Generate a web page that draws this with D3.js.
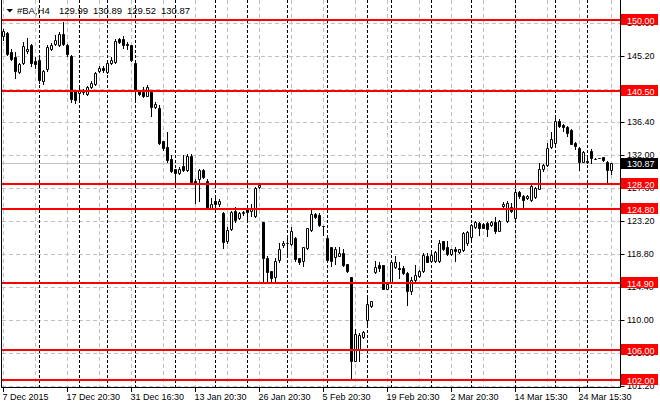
<!DOCTYPE html>
<html>
<head>
<meta charset="utf-8">
<script src="https://cdn.jsdelivr.net/npm/d3@7"></script>
<style>
  body { margin: 0; background: #fff; }
  svg { display: block; font-family: "Liberation Sans", Arial, sans-serif; }
</style>
</head>
<body>
<div id="chart"></div>
<script>
// #BA H4 bars, oldest first
var opens = [
  147.9,148.3,145.7,145.0,143.1,144.3,145.9,146.6,144.5,144.7,
  141.9,143.5,146.2,146.8,146.7,148.1,146.6,145.2,140.5,140.3,
  140.4,140.1,141.0,141.5,143.2,143.6,143.1,144.3,144.4,147.4,
  147.5,146.8,146.6,144.3,140.6,140.4,139.9,140.4,138.4,138.3,
  133.8,133.1,131.5,130.1,129.6,130.5,130.0,131.9,128.6,128.8,
  130.0,128.6,124.9,125.8,125.4,124.3,120.5,122.1,124.5,123.6,
  124.2,124.8,124.5,123.9,127.7,123.0,118.3,116.6,115.8,118.0,
  120.0,120.2,120.1,121.0,118.2,117.9,119.6,122.0,124.1,124.0,
  122.6,121.0,119.7,118.4,118.6,119.0,117.4,115.7,104.6,106.0,
  107.8,110.0,111.9,116.4,117.3,117.3,114.2,115.0,117.1,117.0,
  117.0,116.3,113.9,115.3,115.9,116.5,118.6,117.9,117.9,117.9,
  120.5,119.7,118.8,119.4,119.1,119.3,120.2,121.1,122.4,122.9,
  122.8,122.9,122.7,123.1,121.9,125.2,123.2,125.1,123.6,127.0,
  126.6,126.3,126.0,126.4,127.5,130.1,130.7,133.0,133.6,136.6,
  136.0,135.7,135.3,133.6,132.9,131.1,131.2,132.6,131.5,131.6,
  131.7,131.1,129.99
];
var highs = [
  148.8,148.4,146.2,145.7,144.3,147.0,147.6,146.8,145.0,144.9,
  143.3,146.7,146.9,148.0,148.4,149.7,146.8,145.3,140.6,140.9,
  140.8,141.2,141.8,143.0,143.8,143.8,144.6,145.0,147.4,147.6,
  147.8,147.1,146.7,144.4,140.7,141.0,141.3,140.6,139.0,138.6,
  133.9,135.0,132.0,130.2,130.4,132.0,132.1,132.2,128.8,130.2,
  130.2,128.8,126.2,126.4,126.1,124.4,122.4,124.5,125.0,124.4,
  124.6,125.2,125.4,127.8,128.2,123.1,118.6,116.6,118.2,120.2,
  120.5,121.1,122.4,121.1,118.3,119.8,122.3,124.9,124.3,124.3,
  122.6,121.1,119.8,119.8,119.8,119.5,117.4,115.8,108.8,108.3,
  108.6,113.1,112.6,117.9,117.7,117.3,115.1,118.0,118.6,117.8,
  117.2,116.4,115.8,117.3,116.7,119.0,118.9,118.9,119.2,120.7,
  120.6,120.5,119.5,119.8,119.5,121.7,121.9,122.8,123.2,123.0,
  122.9,123.0,123.2,123.7,123.3,125.7,125.8,125.6,127.4,127.2,
  126.7,126.7,128.1,127.8,130.9,130.8,133.6,135.1,137.1,136.8,
  136.1,135.9,135.5,133.7,133.0,132.5,131.7,132.8,131.6,131.6,
  131.7,131.2,130.89
];
var lows = [
  147.3,145.3,144.6,142.3,142.9,144.1,145.6,143.9,143.6,141.6,
  141.4,143.2,146.0,146.6,146.5,146.6,145.2,139.1,138.9,139.4,
  140.2,140.0,140.9,141.3,143.0,143.0,142.9,144.1,144.3,146.9,
  146.3,146.1,144.5,139.4,140.0,139.7,139.8,137.2,138.3,133.5,
  132.7,131.1,129.7,128.8,129.4,129.8,129.9,128.3,125.6,125.9,
  128.9,124.8,124.8,125.1,125.2,119.6,120.3,122.0,123.1,123.4,
  124.0,123.3,123.9,123.8,127.6,115.0,115.0,115.0,115.2,117.8,
  119.8,118.7,120.0,117.9,117.5,117.2,119.5,121.9,123.6,122.6,
  121.3,117.9,117.2,117.5,118.5,117.2,116.4,102.0,104.5,104.6,
  107.6,109.3,111.8,116.2,116.6,114.1,114.1,114.9,116.9,115.6,
  116.1,112.0,113.4,115.2,115.8,116.4,117.7,117.8,117.8,117.8,
  119.3,118.7,118.7,117.9,119.0,119.2,120.0,120.4,122.3,121.3,
  122.2,121.2,122.6,121.6,121.8,124.9,123.1,124.4,123.5,126.3,
  124.9,126.1,125.9,126.2,127.4,129.9,130.5,132.9,133.5,135.7,
  135.2,134.6,133.4,132.8,130.0,131.0,130.9,130.9,131.4,131.6,
  131.2,128.2,129.52
];
var closes = [
  148.5,145.5,144.8,143.2,144.1,146.5,146.2,144.3,144.1,142.0,
  143.2,146.4,146.6,147.3,148.1,146.8,145.4,139.4,139.3,140.5,
  140.5,141.0,141.6,142.9,143.6,143.3,144.3,144.6,147.2,147.1,
  146.6,146.6,144.7,140.5,140.2,139.9,141.1,138.4,138.8,133.6,
  132.9,131.3,129.9,129.6,130.1,130.0,131.9,128.4,128.2,130.0,
  129.1,124.9,125.4,125.4,125.9,120.4,122.0,124.4,123.3,124.2,
  124.4,124.4,124.9,127.6,128.0,118.3,116.4,115.6,117.9,119.5,
  120.2,120.2,121.8,118.1,117.7,119.7,122.2,124.1,123.8,122.7,
  122.5,118.0,117.9,119.4,119.0,117.3,116.5,104.6,108.2,108.0,
  108.4,112.2,112.5,117.1,117.0,114.2,114.8,117.8,117.8,116.8,
  116.3,113.9,115.3,116.0,116.5,118.7,117.8,118.7,119.1,120.3,
  119.4,118.8,119.4,119.2,119.4,121.6,121.7,122.7,123.0,122.2,
  122.3,122.1,123.1,121.9,123.2,125.4,125.6,124.5,127.0,126.5,
  126.0,126.5,127.9,127.6,130.1,130.7,132.9,134.1,136.6,135.9,
  135.7,134.9,133.5,133.2,131.1,132.4,131.0,131.6,131.5,131.6,
  131.3,130.0,130.87
];

// time axis: labelled bars and their captions
var labelBars = [0, 16, 32, 48, 64, 80, 96, 112, 128, 144];
var timeLabels = ["7 Dec 2015", "17 Dec 20:30", "31 Dec 16:30", "13 Jan 20:30", "26 Jan 20:30",
                  "5 Feb 20:30", "19 Feb 20:30", "2 Mar 20:30", "14 Mar 15:30", "24 Mar 15:30"];
// first bar of each new week (period separators)
var weekStarts = [9, 19, 26, 33, 43, 53, 61, 71, 81, 91, 97, 107, 117, 128, 138, 146];

var priceTicks = [101.2, 105.6, 110.0, 114.4, 118.8, 123.2, 127.6, 132.0, 136.4, 140.8, 145.2, 149.6];
var levels = [150.00, 140.50, 128.20, 124.80, 114.90, 106.00, 102.00];

var n = opens.length;
var last = n - 1;

var svg = d3.select("#chart")
    .append("svg")
        .attr("width", 660)
        .attr("height", 410);

// scales
var x = d3.scaleLinear()
    .domain([0, last])
    .range([3.5, 3.5 + 4 * last]);
var y = d3.scaleLinear()
    .domain([101.2, 145.2])
    .range([386, 56]);
function py(v) { return Math.round(y(v)) + 0.5; }

var fmt = d3.format(".2f");

// horizontal grid
svg.append("g").selectAll("line")
    .data(priceTicks)
    .enter().append("line")
        .attr("x1", 2).attr("x2", 620)
        .attr("y1", py).attr("y2", py)
        .attr("stroke", "#c0c0c0")
        .attr("stroke-dasharray", "4,3");

// vertical grid every 8 bars
svg.append("g").selectAll("line")
    .data(d3.range(0, n, 8))
    .enter().append("line")
        .attr("x1", function(d) { return x(d); })
        .attr("x2", function(d) { return x(d); })
        .attr("y1", 0).attr("y2", 387)
        .attr("stroke", "#c0c0c0")
        .attr("stroke-dasharray", "4,3");

// week separators
svg.append("g").selectAll("line")
    .data(weekStarts)
    .enter().append("line")
        .attr("x1", function(d) { return x(d); })
        .attr("x2", function(d) { return x(d); })
        .attr("y1", 0).attr("y2", 387)
        .attr("stroke", "#000")
        .attr("stroke-dasharray", "3,2");

// bid line
svg.append("line")
    .attr("x1", 2).attr("x2", 620)
    .attr("y1", py(closes[last])).attr("y2", py(closes[last]))
    .attr("stroke", "#c0c0c0");

// candles
var candles = svg.append("g").selectAll("g")
    .data(d3.range(n))
    .enter().append("g");

candles.append("line")
    .attr("x1", function(i) { return x(i); })
    .attr("x2", function(i) { return x(i); })
    .attr("y1", function(i) { return Math.round(y(highs[i])); })
    .attr("y2", function(i) { return Math.round(y(lows[i])) + 1; })
    .attr("stroke", "#000");

candles.append("path")
    .attr("d", function(i) {
        var top = Math.round(y(Math.max(opens[i], closes[i]))),
            bot = Math.round(y(Math.min(opens[i], closes[i])));
        return "M" + (x(i) - 1) + "," + (top + 0.5) + "H" + (x(i) + 1) +
               "V" + (bot + 0.5) + "H" + (x(i) - 1) + "Z";
    })
    .attr("fill", function(i) { return closes[i] >= opens[i] ? "#fff" : "#000"; })
    .attr("stroke", "#000");

// support / resistance lines
svg.append("g").selectAll("line")
    .data(levels)
    .enter().append("line")
        .attr("x1", 2).attr("x2", 620)
        .attr("y1", function(d) { return Math.round(y(d)); })
        .attr("y2", function(d) { return Math.round(y(d)); })
        .attr("stroke", "#ff0000")
        .attr("stroke-width", 2);

// frame
svg.append("path")
    .attr("d", "M1.5,0V387.5H620.5V0")
    .attr("fill", "none")
    .attr("stroke", "#000");

// price axis
var yAxis = svg.append("g")
    .attr("transform", "translate(620.5,0)")
    .call(d3.axisRight(y).tickValues(priceTicks).tickSize(4).tickFormat(fmt));
yAxis.select(".domain").remove();
yAxis.attr("font-family", null).attr("font-size", 9);
yAxis.selectAll("text").attr("x", 6.5).attr("fill", "#000");

// time axis
var xAxis = svg.append("g")
    .attr("transform", "translate(0,387)")
    .call(d3.axisBottom(x).offset(0).tickValues(labelBars).tickSize(5)
        .tickFormat(function(d, i) { return timeLabels[i]; }));
xAxis.select(".domain").remove();
xAxis.attr("font-family", null).attr("font-size", 9);
xAxis.selectAll("text")
    .attr("text-anchor", "start")
    .attr("x", -1)
    .attr("y", 6.5)
    .attr("fill", "#000");

// level labels
var tags = svg.append("g").selectAll("g")
    .data(levels)
    .enter().append("g");
tags.append("rect")
    .attr("x", 621).attr("width", 37)
    .attr("y", function(d) { return Math.round(y(d)) - 6; })
    .attr("height", 11)
    .attr("fill", "#ff0000");
tags.append("text")
    .attr("x", 627)
    .attr("y", function(d) { return Math.round(y(d)) + 3.5; })
    .attr("font-size", 9)
    .attr("fill", "#fff")
    .text(fmt);

// bid label
var bidY = Math.round(y(closes[last]));
svg.append("rect")
    .attr("x", 621).attr("width", 37)
    .attr("y", bidY - 5).attr("height", 11)
    .attr("fill", "#000");
svg.append("text")
    .attr("x", 627).attr("y", bidY + 4)
    .attr("font-size", 9)
    .attr("fill", "#fff")
    .text(fmt(closes[last]));

// header
svg.append("path")
    .attr("d", "M6.5,9H13L9.75,12.5Z")
    .attr("fill", "#000");
svg.append("text")
    .attr("x", 17).attr("y", 14)
    .attr("font-size", 9.5)
    .text("#BA,H4");
svg.append("g").selectAll("text")
    .data([opens[last], highs[last], lows[last], closes[last]])
    .enter().append("text")
        .attr("x", function(d, i) { return 59 + 34 * i; })
        .attr("y", 14)
        .attr("font-size", 9.5)
        .text(fmt);
</script>
</body>
</html>
